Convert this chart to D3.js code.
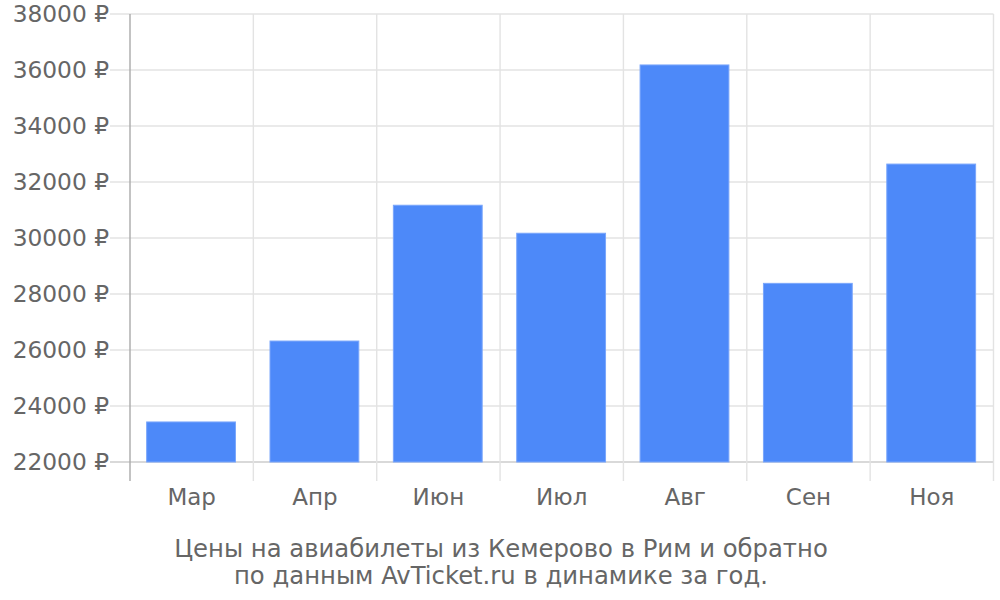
<!DOCTYPE html>
<html><head><meta charset="utf-8">
<script src="https://cdn.jsdelivr.net/npm/d3@7"></script>
<style>body{margin:0;background:#fff}text{font-family:"DejaVu Sans";fill:#666}</style>
</head><body><svg id="c" width="1000" height="600"></svg>
<script>
const months = ["Мар","Апр","Июн","Июл","Авг","Сен","Ноя"];
const prices = [23430, 26320, 31170, 30170, 36180, 28380, 32640];
const yTicks = [22000,24000,26000,28000,30000,32000,34000,36000,38000];
const titleLines = ["Цены на авиабилеты из Кемерово в Рим и обратно","по данным AvTicket.ru в динамике за год."];

const svg = d3.select("#c");
const L=130,R=993.5,T=14,B=462;
const x = d3.scaleBand().domain(months).range([L,R]).paddingInner(0).paddingOuter(0);
const y = d3.scaleLinear().domain([22000,38000]).range([B,T]);
const step = x.step();

// horizontal grid
svg.append("g").selectAll("line").data(yTicks).join("line")
  .attr("x1",110).attr("x2",R).attr("y1",d=>y(d)).attr("y2",d=>y(d))
  .attr("stroke",d=>d===22000?"#ccc":"#e3e3e3").attr("stroke-width",1.4);
// vertical grid
const bounds = months.map(m=>x(m)).concat([R]);
svg.append("g").selectAll("line").data(bounds.slice(1)).join("line")
  .attr("x1",d=>d).attr("x2",d=>d).attr("y1",T).attr("y2",481)
  .attr("stroke","#e3e3e3").attr("stroke-width",1.4);
// left axis line
svg.append("line").attr("x1",L).attr("x2",L).attr("y1",T).attr("y2",481).attr("stroke","#aaa").attr("stroke-width",1.4);

// bars
svg.append("g").selectAll("rect").data(months).join("rect")
  .attr("x",(d)=>x(d)+step*0.135).attr("width",step*0.72)
  .attr("y",(d,i)=>y(prices[i])).attr("height",(d,i)=>B-y(prices[i]))
  .attr("fill","#4d89f9").attr("stroke","#7aa6fb").attr("stroke-width",1);

// y labels
svg.append("g").selectAll("text").data(yTicks).join("text")
  .attr("x",109).attr("y",d=>y(d)).attr("dy","0.36em").attr("text-anchor","end")
  .style("font-size","23.3px").text(d=>d+" ₽");
// x labels
svg.append("g").selectAll("text").data(months).join("text")
  .attr("x",d=>x(d)+step/2).attr("y",505).attr("text-anchor","middle")
  .style("font-size","23px").text(d=>d);
// title
svg.append("g").selectAll("text").data(titleLines).join("text")
  .attr("x",501).attr("y",(d,i)=>557+i*27).attr("text-anchor","middle")
  .style("font-size","24.3px").text(d=>d);
</script></body></html>
